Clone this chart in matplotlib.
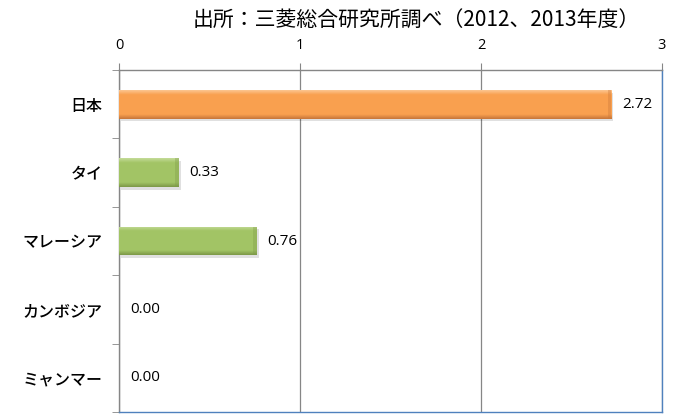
import numpy as np
import matplotlib
matplotlib.use("Agg")
from matplotlib import pyplot as plt
from matplotlib.colors import LinearSegmentedColormap

plt.rcParams['font.family'] = ['Noto Sans CJK JP', 'DejaVu Sans']

countries = ["日本", "タイ", "マレーシア", "カンボジア", "ミャンマー"]
values = [2.72, 0.33, 0.76, 0.00, 0.00]
bar_colors = ["#F9A04F", "#A2C465", "#A2C465", "#A2C465", "#A2C465"]
light_colors = ["#FCC48E", "#C3DB97", "#C3DB97", "#C3DB97", "#C3DB97"]
dark_colors = ["#C9773A", "#7E9A48", "#7E9A48", "#7E9A48", "#7E9A48"]
x_ticks = [0, 1, 2, 3]
title = "出所：三菱総合研究所調べ（2012、2013年度）"

fig = plt.figure(figsize=(6.78, 4.19), dpi=100)
ax = fig.add_axes([119 / 678, 1 - 412 / 419, (662 - 119) / 678, (412 - 70) / 419])

y = np.arange(len(countries))
bars = ax.barh(y, values, height=0.42, color=bar_colors, edgecolor="none",
               linewidth=0, zorder=3)

# ベベル風の見た目（上が明るく、下と右端が暗い）
prof = np.concatenate([np.linspace(1, 0.5, 8), np.full(30, 0.5), np.linspace(0.5, 0, 8)]).reshape(-1, 1)
for b, c, lc, dc in zip(bars, bar_colors, light_colors, dark_colors):
    w = b.get_width()
    if w <= 0:
        continue
    x0, y0, h = b.get_x(), b.get_y(), b.get_height()
    ax.add_patch(plt.Rectangle((x0 + 0.012, y0 + 0.04), w, h, color="#000000",
                               alpha=0.12, zorder=2, linewidth=0))
    cm = LinearSegmentedColormap.from_list("bev", [dc, c, lc])
    im = ax.imshow(prof, cmap=cm, vmin=0, vmax=1, aspect="auto",
                   extent=(x0, x0 + w, y0 + h, y0), zorder=4)
    im.set_clip_path(b)
    ax.add_patch(plt.Rectangle((x0 + w - 0.018, y0), 0.018, h, color=dc,
                               alpha=0.35, zorder=5, linewidth=0))

for v, yy in zip(values, y):
    ax.text(v + 0.06, yy, "{:.2f}".format(v), va="center", ha="left",
            fontsize=11, family=["Open Sans", "DejaVu Sans"], color="#000000")

ax.set_xlim(0, 3)
ax.set_ylim(len(countries) - 0.5, -0.5)
ax.set_xticks(x_ticks)
ax.set_xticklabels([str(t) for t in x_ticks], fontsize=10.5, family=["Open Sans", "DejaVu Sans"])
ax.xaxis.tick_top()
ax.tick_params(axis="x", direction="out", length=5, color="#868686", pad=7)
ax.grid(axis="x", color="#868686", linewidth=0.9, zorder=0)

ax.set_yticks(y)
ax.set_yticklabels(countries, fontsize=11.5, fontweight="medium")
ax.tick_params(axis="y", length=0, pad=12)
ax.set_yticks(np.arange(len(countries) + 1) - 0.5, minor=True)
ax.tick_params(axis="y", which="minor", direction="out", length=5, color="#868686")

ax.spines["left"].set_color("#868686")
ax.spines["top"].set_color("#868686")
ax.spines["right"].set_color("#4F81BD")
ax.spines["bottom"].set_color("#4F81BD")
for s in ax.spines.values():
    s.set_linewidth(1.0)

fig.text(640 / 678, 1 - 20 / 419, title, ha="right", va="center", fontsize=15)

fig.savefig("out.png", dpi=100)
